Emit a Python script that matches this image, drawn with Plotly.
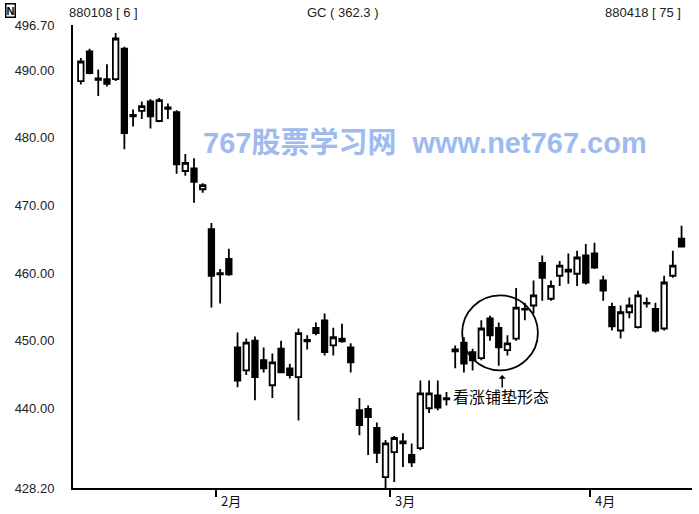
import plotly.graph_objects as go

# ---- data ----
opens = [488.4, 492.8, 488.8, 488.7, 488.7, 493.2, 483.2, 484.0, 485.4, 482.5,
         484.5, 483.8, 475.1, 475.5, 472.4, 466.5, 460.0, 462.1, 449.0, 445.6,
         450.0, 447.1, 443.4, 448.8, 445.9, 444.6, 450.1, 451.9, 453.0, 449.3,
         449.9, 449.0, 439.7, 439.9, 437.1, 429.8, 433.5, 434.8, 433.1, 434.1,
         440.0, 441.9, 441.5, 448.7, 449.7, 448.3, 447.4, 453.3, 451.9, 448.6,
         450.3, 454.7, 455.2, 461.5, 456.2, 459.6, 460.2, 459.9, 462.6, 462.9,
         458.9, 455.0, 451.5, 454.2, 452.0, 455.6, 454.7, 451.8, 459.6, 465.1]
highs = [491.8, 493.2, 490.1, 490.9, 495.5, 493.5, 484.2, 485.4, 485.7, 485.9,
         485.1, 484.1, 477.6, 477.0, 473.3, 467.4, 460.6, 463.6, 451.2, 450.3,
         450.6, 449.0, 448.1, 450.0, 446.6, 451.8, 450.8, 452.7, 454.0, 451.9,
         452.5, 449.6, 441.5, 440.4, 437.9, 435.3, 435.9, 436.3, 434.8, 444.1,
         444.1, 444.1, 442.4, 449.3, 450.5, 448.8, 453.0, 453.7, 452.7, 450.8,
         457.8, 455.6, 458.9, 462.6, 458.9, 461.8, 462.9, 463.3, 464.3, 464.5,
         459.6, 455.6, 455.2, 456.4, 457.4, 456.4, 455.6, 459.6, 463.3, 467.0]
lows = [487.9, 489.4, 486.2, 487.6, 488.4, 478.3, 481.7, 482.8, 481.4, 482.3,
        482.8, 474.7, 474.4, 470.4, 471.9, 454.9, 455.5, 459.6, 443.1, 444.9,
        441.2, 445.3, 441.5, 445.2, 444.4, 438.2, 448.7, 450.8, 447.8, 447.8,
        449.7, 445.3, 436.0, 433.1, 431.9, 428.2, 429.1, 431.3, 431.3, 433.8,
        439.3, 439.7, 440.4, 445.9, 445.3, 445.6, 447.1, 450.0, 446.3, 447.8,
        450.0, 453.0, 454.0, 455.9, 455.9, 458.1, 458.4, 458.1, 458.3, 460.6,
        455.9, 451.5, 450.3, 453.3, 451.8, 454.9, 451.2, 451.5, 459.3, 463.9]
closes = [491.3, 489.6, 488.6, 488.0, 494.7, 480.7, 483.4, 484.7, 483.2, 485.6,
          484.3, 476.1, 476.3, 473.5, 473.0, 459.6, 459.8, 459.8, 444.1, 449.7,
          444.6, 445.9, 446.8, 445.3, 444.9, 451.1, 449.9, 451.1, 448.3, 450.5,
          450.3, 446.8, 437.5, 438.7, 433.4, 434.8, 435.6, 435.1, 432.0, 442.2,
          442.2, 440.1, 441.3, 448.4, 446.6, 447.1, 451.8, 450.8, 449.0, 449.6,
          454.9, 454.6, 456.7, 459.3, 458.1, 461.1, 460.5, 462.3, 458.6, 460.8,
          457.4, 452.1, 454.2, 455.2, 456.7, 455.5, 451.5, 458.6, 461.1, 463.9]
bar_index = list(range(len(opens)))

month_start_index = [16, 36, 59]
month_labels = ["2月", "3月", "4月"]
y_ticks = [428.2, 440, 450, 460, 470, 480, 490, 496.7]
header_left = "880108 [ 6 ]"
header_mid = "GC ( 362.3 )"
header_right = "880418 [ 75 ]"
watermark = "767股票学习网  www.net767.com"
pattern_label = "看涨铺垫形态"

fig = go.Figure()
fig.add_trace(go.Candlestick(
    x=bar_index, open=opens, high=highs, low=lows, close=closes,
    increasing=dict(line=dict(color="black", width=1.8), fillcolor="white"),
    decreasing=dict(line=dict(color="black", width=1.8), fillcolor="black"),
    whiskerwidth=0, showlegend=False, hoverinfo="skip",
))

tick_pos = [m - 0.5 for m in month_start_index]

fig.update_layout(
    width=699, height=514,
    margin=dict(l=73, r=7, t=25, b=26),
    paper_bgcolor="white", plot_bgcolor="white",
    boxgap=0.1,
    font=dict(family="Liberation Sans, Arial, sans-serif", size=13, color="#111"),
    xaxis=dict(
        range=[-0.9, 70.2], rangeslider=dict(visible=False),
        showgrid=False, zeroline=False,
        showline=True, linecolor="black", linewidth=2,
        tickmode="array", tickvals=tick_pos, ticktext=["", "", ""],
        ticks="outside", ticklen=7, tickwidth=1.5, tickcolor="black",
    ),
    yaxis=dict(
        range=[428.2, 496.7], showgrid=False, zeroline=False,
        showline=True, linecolor="black", linewidth=2,
        tickmode="array", tickvals=y_ticks,
        ticktext=[f"{v:.2f}" for v in y_ticks],
        ticks="", ticklabelstandoff=14,
        tickfont=dict(size=13, color="#222"),
    ),
)

annotations = []
for pos, lab in zip(tick_pos, month_labels):
    annotations.append(dict(
        x=pos, y=0, xref="x", yref="paper", text=lab, showarrow=False,
        xanchor="left", yanchor="top", xshift=3, yshift=-1,
        font=dict(family="Noto Sans CJK SC, sans-serif", size=13, color="#111"),
    ))

def px2paper(px):
    return (px - 73) / 619.0

annotations += [
    dict(x=px2paper(67), y=1, xref="paper", yref="paper", text=header_left,
         showarrow=False, xanchor="left", yanchor="middle", yshift=13,
         font=dict(size=13, color="#222")),
    dict(x=px2paper(305), y=1, xref="paper", yref="paper", text=header_mid,
         showarrow=False, xanchor="left", yanchor="middle", yshift=13,
         font=dict(size=13, color="#222")),
    dict(x=px2paper(683), y=1, xref="paper", yref="paper", text=header_right,
         showarrow=False, xanchor="right", yanchor="middle", yshift=13,
         font=dict(size=13, color="#222")),
    dict(x=px2paper(10), y=1, xref="paper", yref="paper", text="<b>N</b>",
         showarrow=False, xanchor="center", yanchor="middle", yshift=15,
         bordercolor="black", borderwidth=1.5, borderpad=0, bgcolor="white",
         font=dict(size=11, color="black")),
    dict(x=px2paper(425), y=(488 - 143) / 463.0, xref="paper", yref="paper",
         text="<b>" + watermark + "</b>", showarrow=False,
         xanchor="center", yanchor="middle",
         font=dict(family="Liberation Sans, Noto Sans CJK SC, sans-serif",
                   size=29, color="rgb(158,186,240)")),
    dict(x=42.5, y=441.8, xref="x", yref="y", text=pattern_label,
         showarrow=False, xanchor="left", yanchor="middle",
         font=dict(family="Noto Sans CJK SC, sans-serif", size=16, color="black")),
    dict(x=48.4, y=444.9, xref="x", yref="y", text="", showarrow=True,
         ax=0, ay=14, arrowhead=1, arrowsize=0.8, arrowwidth=1.5,
         arrowcolor="black"),
]
fig.update_layout(annotations=annotations)

fig.add_shape(type="circle", xref="x", yref="y",
              x0=43.8, x1=52.5, y0=445.6, y1=456.7,
              line=dict(color="black", width=1.8))

fig.write_html("out.html",
               config={"displayModeBar": False},
               post_script="document.body.style.margin='0px';"
                           "document.body.style.overflow='hidden';")
